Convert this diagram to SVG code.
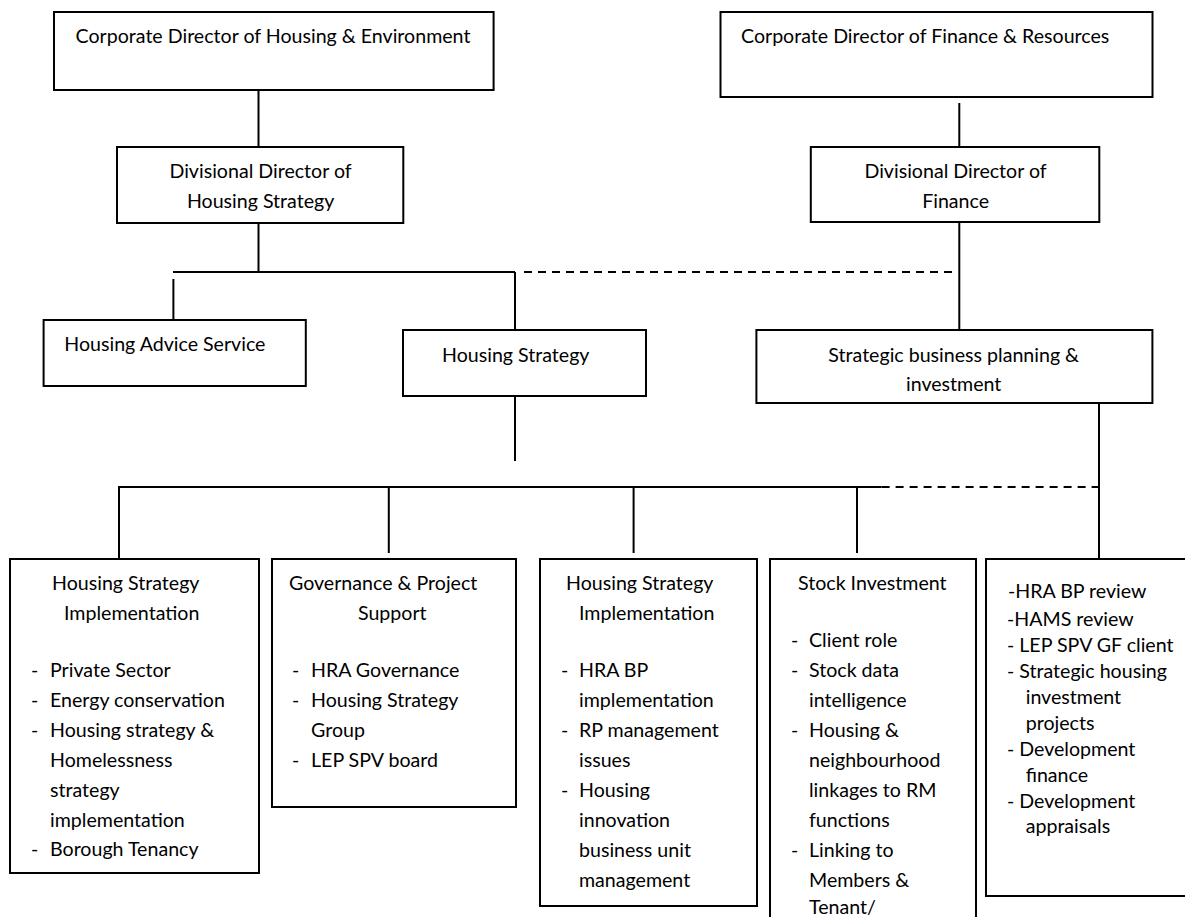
<svg xmlns="http://www.w3.org/2000/svg" width="1185" height="917" viewBox="0 0 1185 917">
<style>
text{font-family:Lato,"Open Sans","Liberation Sans",sans-serif;font-size:19.6px;fill:#000}
.c{text-anchor:middle}
.box{fill:#fff;stroke:#000;stroke-width:2}
.ln{stroke:#000;stroke-width:2;fill:none}
.dash{stroke:#000;stroke-width:2;fill:none;stroke-dasharray:8 6}
</style>
<rect width="1185" height="917" fill="#fff"/>
<g id="connectors">
<line class="ln" x1="258.5" y1="90" x2="258.5" y2="147"/>
<line class="ln" x1="258.5" y1="223" x2="258.5" y2="272"/>
<line class="ln" x1="173" y1="272" x2="515" y2="272"/>
<line class="ln" x1="173.4" y1="279" x2="173.4" y2="320"/>
<line class="ln" x1="515" y1="272" x2="515" y2="330"/>
<line class="dash" x1="524" y1="272" x2="952" y2="272"/>
<line class="ln" x1="959.3" y1="103" x2="959.3" y2="147"/>
<line class="ln" x1="959.3" y1="222" x2="959.3" y2="330"/>
<line class="ln" x1="515" y1="396" x2="515" y2="461"/>
<line class="ln" x1="119" y1="487" x2="881.6" y2="487"/>
<line class="dash" x1="881.6" y1="487" x2="1098" y2="487"/>
<line class="ln" x1="119" y1="486" x2="119" y2="559"/>
<line class="ln" x1="388.8" y1="487" x2="388.8" y2="553"/>
<line class="ln" x1="633.6" y1="487" x2="633.6" y2="553"/>
<line class="ln" x1="857" y1="487" x2="857" y2="553"/>
<line class="ln" x1="1099" y1="403" x2="1099" y2="559"/>
</g>
<g id="corp-housing">
<rect class="box" x="54" y="12" width="439.6" height="78"/>
<text class="c" x="273" y="43">Corporate Director of Housing &amp; Environment</text>
</g>
<g id="corp-finance">
<rect class="box" x="720.5" y="12" width="432" height="85"/>
<text x="741" y="43">Corporate Director of Finance &amp; Resources</text>
</g>
<g id="div-housing">
<rect class="box" x="117" y="147" width="286.3" height="76"/>
<text class="c" x="260.6" y="178">Divisional Director of</text>
<text class="c" x="260.6" y="208">Housing Strategy</text>
</g>
<g id="div-finance">
<rect class="box" x="810.8" y="147" width="288.5" height="75"/>
<text class="c" x="955.6" y="178">Divisional Director of</text>
<text class="c" x="955.6" y="208">Finance</text>
</g>
<g id="housing-advice">
<rect class="box" x="43.6" y="320" width="262.2" height="66"/>
<text x="64.3" y="350.7">Housing Advice Service</text>
</g>
<g id="housing-strategy">
<rect class="box" x="403" y="330" width="243" height="66"/>
<text x="442" y="362">Housing Strategy</text>
</g>
<g id="strategic-planning">
<rect class="box" x="756.4" y="330" width="396" height="73"/>
<text class="c" x="953.7" y="362">Strategic business planning &amp;</text>
<text class="c" x="953.7" y="390.7">investment</text>
</g>
<g id="hsi-1">
<rect class="box" x="10" y="559" width="249" height="314"/>
<text x="52" y="590">Housing Strategy</text>
<text x="64" y="620">Implementation</text>
<text x="31" y="676.7">-</text><text x="50" y="676.7">Private Sector</text>
<text x="31" y="706.7">-</text><text x="50" y="706.7">Energy conservation</text>
<text x="31" y="736.7">-</text><text x="50" y="736.7">Housing strategy &amp;</text>
<text x="50" y="766.7">Homelessness</text>
<text x="50" y="796.7">strategy</text>
<text x="50" y="826.7">implementation</text>
<text x="31" y="855.5">-</text><text x="50" y="855.5">Borough Tenancy</text>
</g>
<g id="governance">
<rect class="box" x="272" y="559" width="244" height="248"/>
<text x="289" y="590">Governance &amp; Project</text>
<text x="358" y="620">Support</text>
<text x="292" y="676.7">-</text><text x="311" y="676.7">HRA Governance</text>
<text x="292" y="706.7">-</text><text x="311" y="706.7">Housing Strategy</text>
<text x="311" y="736.7">Group</text>
<text x="292" y="766.7">-</text><text x="311" y="766.7">LEP SPV board</text>
</g>
<g id="hsi-2">
<rect class="box" x="540" y="559" width="217" height="347"/>
<text x="566" y="590">Housing Strategy</text>
<text x="579" y="620">Implementation</text>
<text x="561" y="676.7">-</text><text x="579" y="676.7">HRA BP</text>
<text x="579" y="706.7">implementation</text>
<text x="561" y="736.7">-</text><text x="579" y="736.7">RP management</text>
<text x="579" y="766.7">issues</text>
<text x="561" y="796.7">-</text><text x="579" y="796.7">Housing</text>
<text x="579" y="826.7">innovation</text>
<text x="579" y="856.7">business unit</text>
<text x="579" y="886.7">management</text>
</g>
<g id="stock-investment">
<rect class="box" x="770" y="559" width="206" height="380"/>
<text x="798" y="590">Stock Investment</text>
<text x="791" y="646.7">-</text><text x="809" y="646.7">Client role</text>
<text x="791" y="676.7">-</text><text x="809" y="676.7">Stock data</text>
<text x="809" y="706.7">intelligence</text>
<text x="791" y="736.7">-</text><text x="809" y="736.7">Housing &amp;</text>
<text x="809" y="766.7">neighbourhood</text>
<text x="809" y="796.7">linkages to RM</text>
<text x="809" y="826.7">functions</text>
<text x="791" y="856.7">-</text><text x="809" y="856.7">Linking to</text>
<text x="809" y="886.7">Members &amp;</text>
<text x="809" y="914">Tenant/</text>
</g>
<g id="finance-tasks">
<rect class="box" x="986" y="559" width="230" height="337"/>
<text x="1008" y="597.7">-HRA BP review</text>
<text x="1007" y="626">-HAMS review</text>
<text x="1007" y="651.7">- LEP SPV GF client</text>
<text x="1007" y="678.3">- Strategic housing</text>
<text x="1025.7" y="704">investment</text>
<text x="1025.7" y="730">projects</text>
<text x="1007" y="756">- Development</text>
<text x="1025.7" y="781.7">finance</text>
<text x="1007" y="807.7">- Development</text>
<text x="1025.7" y="833.3">appraisals</text>
</g>
</svg>
